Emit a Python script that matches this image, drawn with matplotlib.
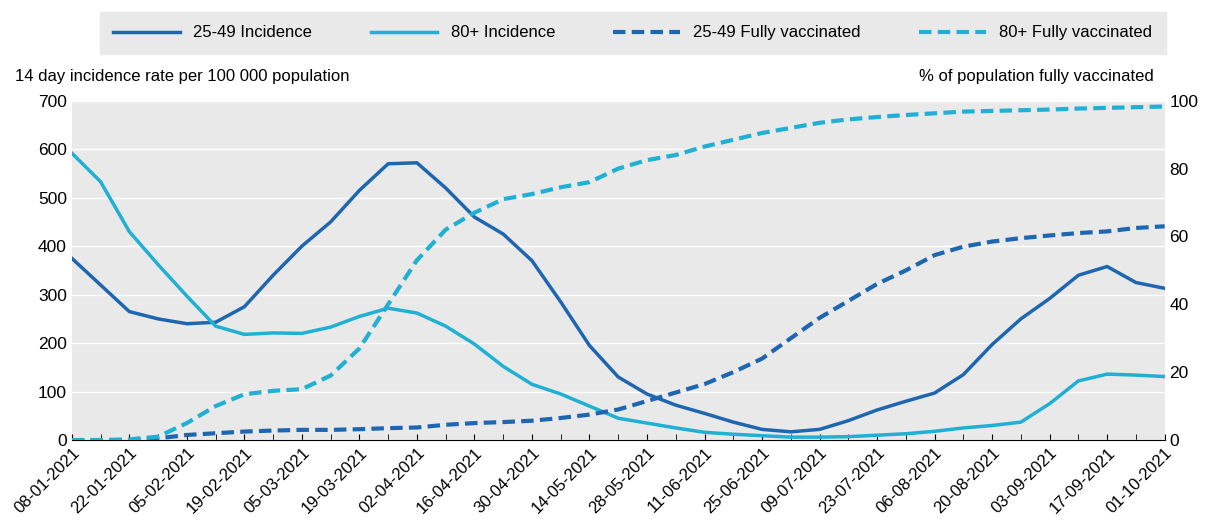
import matplotlib.pyplot as plt
import pandas as pd

plt.rcParams['font.family'] = ['Liberation Sans', 'DejaVu Sans']

dates = pd.date_range("2021-01-08", "2021-10-01", freq="7D")

inc_25_49 = [375, 320, 265, 250, 240, 243, 275, 340, 400, 450, 515, 570, 572, 520, 460, 425, 370, 285, 195, 130,
             95, 72, 55, 37, 22, 17, 22, 40, 62, 80, 97, 135, 197, 250, 292, 340, 358, 325, 313]
inc_80 = [592, 533, 430, 362, 297, 235, 218, 221, 220, 233, 255, 272, 262, 235, 198, 152, 115, 95, 70, 45,
          35, 25, 16, 12, 9, 6, 6, 7, 10, 13, 18, 25, 30, 37, 75, 122, 136, 134, 131]
vax_25_49 = [0, 0, 0, 0.5, 1.5, 2, 2.5, 2.8, 3, 3, 3.2, 3.5, 3.7, 4.5, 5, 5.3, 5.7, 6.5, 7.5, 9,
             11.5, 14, 16.5, 20, 24, 30, 36, 41, 46, 50, 54.5, 57, 58.5, 59.5, 60.3, 61, 61.5, 62.5, 63]
vax_80 = [0, 0, 0.2, 1, 5, 10, 13.5, 14.5, 15, 19, 27, 40, 53, 62, 67, 71, 72.5, 74.5, 76, 80,
          82.5, 84, 86.5, 88.5, 90.5, 92, 93.5, 94.5, 95.2, 95.8, 96.3, 96.8, 97, 97.2, 97.4, 97.7, 97.9, 98.1, 98.3]

dark = "#1f66b0"
light = "#1fb0d3"

fig = plt.figure(figsize=(12.17, 5.22), dpi=100)
ax = fig.add_axes([0.059, 0.157, 0.898, 0.65])
ax.set_facecolor("#e9e9e9")
ax2 = ax.twinx()

x = list(range(len(dates)))
l1, = ax.plot(x, inc_25_49, color=dark, lw=2.5, label="25-49 Incidence")
l2, = ax.plot(x, inc_80, color=light, lw=2.5, label="80+ Incidence")
l3, = ax2.plot(x, vax_25_49, color=dark, lw=3, ls=(0, (3, 1.5)), label="25-49 Fully vaccinated")
l4, = ax2.plot(x, vax_80, color=light, lw=3, ls=(0, (3, 1.5)), label="80+ Fully vaccinated")

ax.set_xlim(0, len(x) - 1)
ax.set_ylim(0, 700)
ax2.set_ylim(0, 100)
ax.set_yticks(range(0, 701, 100))
ax2.set_yticks(range(0, 101, 20))
ax.set_xticks(x[::2])
ax.set_xticklabels([d.strftime("%d-%m-%Y") for d in dates[::2]], rotation=45, ha="right",
                   rotation_mode="anchor")
ax.set_xticks(x, minor=True)
ax.grid(axis="y", color="white", lw=1)
ax.set_axisbelow(True)
for a in (ax, ax2):
    for s in a.spines.values():
        s.set_visible(False)
    a.tick_params(labelsize=12.5, length=0)
ax.tick_params(axis="x", labelsize=12)
ax.spines["bottom"].set_visible(True)
ax.spines["bottom"].set_color("black")
ax.tick_params(axis="x", length=4, which="both", direction="in", color="black")

fig.text(0.012, 0.845, "14 day incidence rate per 100 000 population", fontsize=12)
fig.text(0.948, 0.845, "% of population fully vaccinated", fontsize=12, ha="right")

leg = fig.legend(handles=[l1, l2, l3, l4], loc="upper center", bbox_to_anchor=(0.52, 0.977), ncol=4,
                 fontsize=12, frameon=True, fancybox=False, handlelength=4, columnspacing=3.5,
                 borderpad=0.8, borderaxespad=0)
leg.get_frame().set_facecolor("#e9e9e9")
leg.get_frame().set_edgecolor("#e9e9e9")
leg.get_frame().set_alpha(1)

fig.savefig("out.png")
